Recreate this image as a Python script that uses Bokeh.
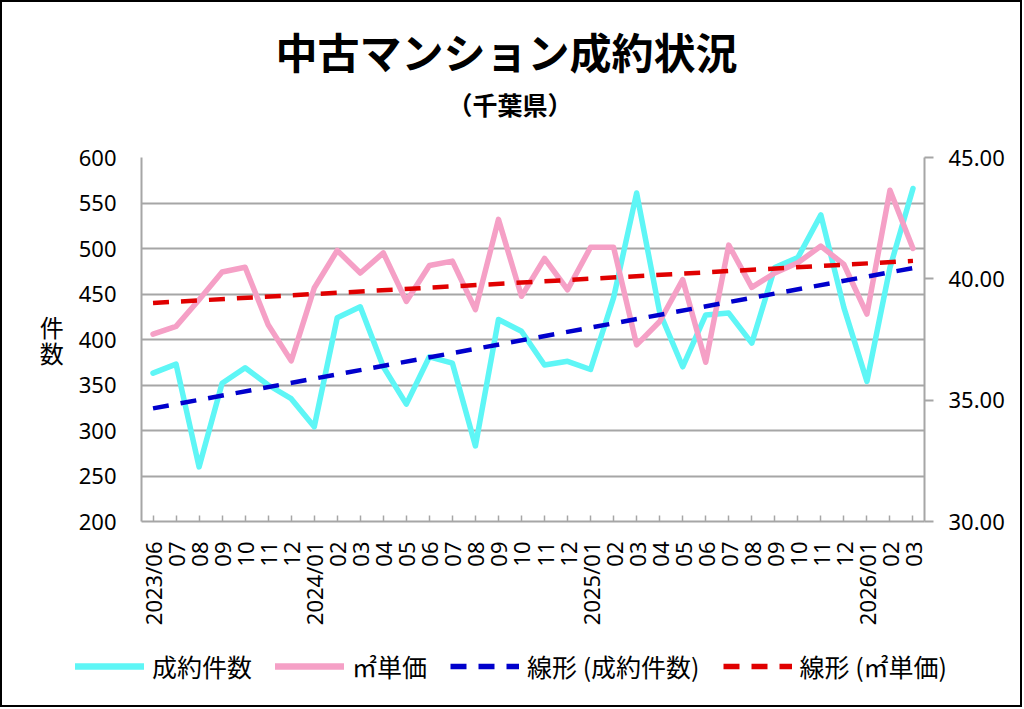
import numpy as np
from bokeh.plotting import figure
from bokeh.layouts import column, row
from bokeh.models import (Range1d, LinearAxis, FixedTicker, Legend, LegendItem,
                          Title, NumeralTickFormatter)
from bokeh.embed import file_html
from bokeh.resources import INLINE

# ---------------- data ----------------
months = ["2023/06", "2023/07", "2023/08", "2023/09", "2023/10", "2023/11", "2023/12",
          "2024/01", "2024/02", "2024/03", "2024/04", "2024/05", "2024/06", "2024/07",
          "2024/08", "2024/09", "2024/10", "2024/11", "2024/12", "2025/01", "2025/02",
          "2025/03", "2025/04", "2025/05", "2025/06", "2025/07", "2025/08", "2025/09",
          "2025/10", "2025/11", "2025/12", "2026/01", "2026/02", "2026/03"]
tick_labels = ["2023/06", "07", "08", "09", "10", "11", "12",
               "2024/01", "02", "03", "04", "05", "06", "07", "08", "09", "10", "11", "12",
               "2025/01", "02", "03", "04", "05", "06", "07", "08", "09", "10", "11", "12",
               "2026/01", "02", "03"]
counts = [363, 373, 260, 352, 369, 350, 335, 304, 424, 436, 370, 329, 381, 374, 283,
          422, 409, 372, 376, 367, 446, 561, 430, 370, 427, 429, 396, 479, 490, 537,
          435, 354, 479, 566]
unit_price = [37.72, 38.04, 39.14, 40.28, 40.48, 38.11, 36.62, 39.62, 41.17, 40.24,
              41.07, 39.07, 40.55, 40.73, 38.73, 42.45, 39.28, 40.84, 39.55, 41.30,
              41.30, 37.28, 38.24, 39.97, 36.56, 41.39, 39.65, 40.24, 40.66, 41.35,
              40.59, 38.55, 43.65, 41.25]
left_ticks = [200, 250, 300, 350, 400, 450, 500, 550, 600]
right_ticks = [30, 35, 40, 45]

title_text = "中古マンション成約状況"
subtitle_text = "（千葉県）"
y_caption = "件\n数"
series_names = ["成約件数", "㎡単価", "線形 (成約件数)", "線形 (㎡単価)"]

# ---------------- derived ----------------
x = np.arange(len(months))
c_fit = np.polyfit(x, counts, 1)
p_fit = np.polyfit(x, unit_price, 1)
x_end = np.array([x[0], x[-1]])
c_trend = np.polyval(c_fit, x_end)
p_trend = np.polyval(p_fit, x_end)

GRID = "#A6A6A6"
CJK = "Noto Sans CJK JP"
LAT = "Noto Sans"
BORDER = "2px solid black"

STYLES = [
    dict(color="#5EF6F6", width=5.5, dash="solid"),
    dict(color="#F5A0C6", width=5.5, dash="solid"),
    dict(color="#0000CC", width=4.5, dash="16 12"),
    dict(color="#E00000", width=4.5, dash="16 12"),
]

p = figure(width=1022, height=635, output_backend="svg", toolbar_location=None,
           x_range=Range1d(-0.5, len(months) - 0.5),
           y_range=Range1d(left_ticks[0], left_ticks[-1]),
           min_border_left=139, min_border_right=100, min_border_top=155,
           min_border_bottom=116, outline_line_color=None,
           background_fill_color="white", border_fill_color="white")
p.styles = {"border-top": BORDER, "border-left": BORDER, "border-right": BORDER}
p.extra_y_ranges = {"price": Range1d(right_ticks[0], right_ticks[-1])}

# titles (subtitle first: nearest to the plot)
p.add_layout(Title(text=subtitle_text, align="left", offset=306, standoff=71,
                   text_font=CJK, text_font_size="25px", text_font_style="bold",
                   text_color="black"), "above")
p.add_layout(Title(text=title_text, align="left", offset=134, standoff=-65,
                   text_font=CJK, text_font_size="42px", text_font_style="bold",
                   text_color="black"), "above")

# axes
p.xaxis.ticker = FixedTicker(ticks=list(x))
p.xaxis.major_label_overrides = {int(i): tick_labels[i] for i in x}
p.xaxis.major_label_orientation = np.pi / 2
p.xaxis.major_tick_in = 6
p.xaxis.major_tick_out = 0
p.xaxis.minor_tick_line_color = None
p.xaxis.major_label_standoff = 20
p.xaxis.major_label_text_font = LAT
p.xaxis.major_label_text_font_size = "22px"
p.xaxis.major_label_text_color = "black"
p.xaxis.axis_line_color = GRID
p.xaxis.axis_line_width = 2
p.xaxis.major_tick_line_color = GRID
p.xaxis.major_tick_line_width = 1.5

p.yaxis.ticker = FixedTicker(ticks=left_ticks)
p.yaxis.major_tick_in = 0
p.yaxis.major_tick_out = 0
p.yaxis.minor_tick_line_color = None
p.yaxis.major_label_standoff = 25
p.yaxis.major_label_text_font = LAT
p.yaxis.major_label_text_font_size = "22px"
p.yaxis.major_label_text_color = "black"
p.yaxis.axis_line_color = GRID
p.yaxis.axis_line_width = 2
p.yaxis.axis_label = y_caption
p.yaxis.axis_label_orientation = "horizontal"
p.yaxis.axis_label_standoff = 12
p.yaxis.axis_label_text_font = CJK
p.yaxis.axis_label_text_font_size = "24px"
p.yaxis.axis_label_text_font_style = "normal"
p.yaxis.axis_label_text_line_height = 0.75
p.yaxis.axis_label_text_color = "black"

raxis = LinearAxis(y_range_name="price", ticker=FixedTicker(ticks=right_ticks),
                   formatter=NumeralTickFormatter(format="0.00"))
raxis.major_tick_in = 0
raxis.major_tick_out = 9
raxis.minor_tick_line_color = None
raxis.major_label_standoff = 15
raxis.major_label_text_font = LAT
raxis.major_label_text_font_size = "22px"
raxis.major_label_text_color = "black"
raxis.axis_line_color = GRID
raxis.axis_line_width = 2
raxis.major_tick_line_color = GRID
raxis.major_tick_line_width = 2
p.add_layout(raxis, "right")

p.xgrid.grid_line_color = None
p.ygrid.grid_line_color = GRID
p.ygrid.grid_line_width = 2

# series
s = STYLES
p.line(x, counts, line_color=s[0]["color"], line_width=s[0]["width"],
       line_join="round", line_cap="round")
p.line(x, unit_price, y_range_name="price", line_color=s[1]["color"],
       line_width=s[1]["width"], line_join="round", line_cap="round")
p.line(x_end, c_trend, line_color=s[2]["color"], line_width=s[2]["width"],
       line_dash=s[2]["dash"])
p.line(x_end, p_trend, y_range_name="price", line_color=s[3]["color"],
       line_width=s[3]["width"], line_dash=s[3]["dash"])

# legend strip: a separate full-width figure (wrapped in a row so that its
# frame is not aligned with the main plot frame)
pl = figure(width=1022, height=72, output_backend="svg", toolbar_location=None,
            x_range=Range1d(0, 1), y_range=Range1d(0, 1),
            x_axis_type=None, y_axis_type=None,
            min_border_left=0, min_border_right=0, min_border_top=0,
            min_border_bottom=0, outline_line_color=None,
            background_fill_color="white", border_fill_color="white")
pl.styles = {"border-bottom": BORDER, "border-left": BORDER, "border-right": BORDER}
items = []
nan_pt = np.array([np.nan])
for name, st in zip(series_names, STYLES):
    r = pl.line(nan_pt, nan_pt, line_color=st["color"], line_width=st["width"] + 1,
                line_dash=st["dash"],
                line_cap="butt" if st["dash"] != "solid" else "round")
    items.append(LegendItem(label=name, renderers=[r]))
legend = Legend(items=items, orientation="horizontal", location=(73, 23),
                padding=0, margin=0, spacing=23, label_standoff=8,
                glyph_width=69, glyph_height=26, label_height=26,
                label_text_font=CJK, label_text_font_size="25px",
                label_text_color="black", border_line_color=None,
                background_fill_alpha=0)
pl.add_layout(legend)

layout = column(p, row(pl, spacing=0), spacing=0)
open("out.html", "w").write(file_html(layout, INLINE))
